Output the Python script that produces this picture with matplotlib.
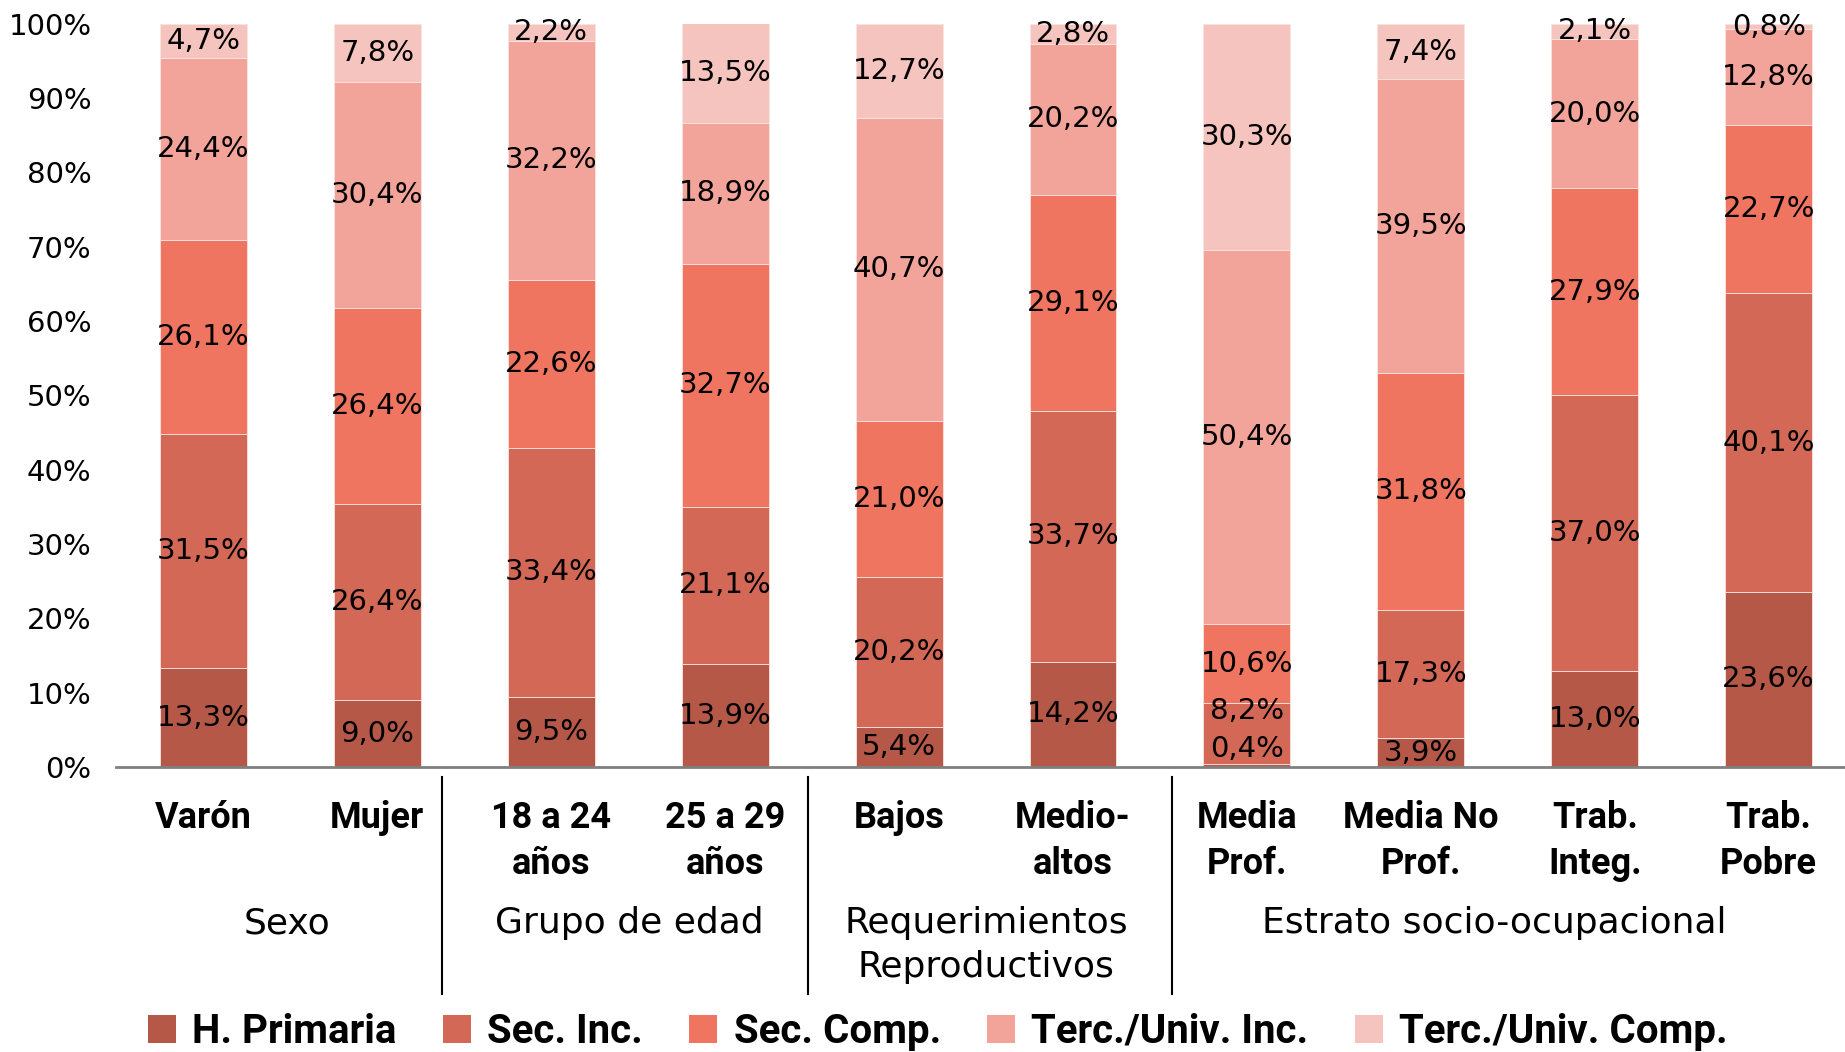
import matplotlib
matplotlib.use("Agg")
import matplotlib.pyplot as plt
from matplotlib.transforms import blended_transform_factory
from matplotlib.lines import Line2D
from matplotlib.patches import Patch

categories = ["Varón", "Mujer", "18 a 24\naños", "25 a 29\naños", "Bajos", "Medio-\naltos",
              "Media\nProf.", "Media No\nProf.", "Trab.\nInteg.", "Trab.\nPobre"]
series_names = ["H. Primaria", "Sec. Inc.", "Sec. Comp.", "Terc./Univ. Inc.", "Terc./Univ. Comp."]
h_primaria = [13.3, 9.0, 9.5, 13.9, 5.4, 14.2, 0.4, 3.9, 13.0, 23.6]
sec_inc = [31.5, 26.4, 33.4, 21.1, 20.2, 33.7, 8.2, 17.3, 37.0, 40.1]
sec_comp = [26.1, 26.4, 22.6, 32.7, 21.0, 29.1, 10.6, 31.8, 27.9, 22.7]
terc_inc = [24.4, 30.4, 32.2, 18.9, 40.7, 20.2, 50.4, 39.5, 20.0, 12.8]
terc_comp = [4.7, 7.8, 2.2, 13.5, 12.7, 2.8, 30.3, 7.4, 2.1, 0.8]
groups = ["Sexo", "Grupo de edad", "Requerimientos\nReproductivos", "Estrato socio-ocupacional"]
yticks = [0, 10, 20, 30, 40, 50, 60, 70, 80, 90, 100]

colors = ["#B55848", "#D46856", "#EF7560", "#F3A49A", "#F6C4BF"]
label_y_override = {(6, 0): 2.5, (6, 1): 7.6}
group_x = [0.48, 2.45, 4.50, 7.42]
sep_x = [1.373, 3.478, 5.568]

cat_font = "Roboto"
num_font = "DejaVu Sans"

W, H = 1568.0, 894.0
fig = plt.figure(figsize=(18.45, 10.52), dpi=100)
ax = fig.add_axes([99 / W, 1 - 652 / H, 10 * 147.8 / W, (652 - 20) / H])

data = [h_primaria, sec_inc, sec_comp, terc_inc, terc_comp]
x = list(range(len(categories)))
bottom = [0.0] * len(categories)
handles = []
for si, vals in enumerate(data):
    ax.bar(x, vals, width=0.5, bottom=bottom, color=colors[si],
           edgecolor="#fbe3df", linewidth=0.6, zorder=2)
    for i, v in enumerate(vals):
        yc = label_y_override.get((i, si), bottom[i] + v / 2)
        ax.text(i, yc, f"{v:.1f}%".replace(".", ","), ha="center", va="center",
                fontsize=21, family=num_font, color="black", zorder=3)
    bottom = [b + v for b, v in zip(bottom, vals)]
    handles.append(Patch(facecolor=colors[si], edgecolor="none"))

ax.set_xlim(-0.5, 9.5)
ax.set_ylim(0, 100)
ax.set_yticks(yticks)
ax.set_yticklabels([f"{t}%" for t in yticks], fontsize=21, family=num_font)
ax.tick_params(axis="y", length=0, pad=18)
ax.set_xticks([])
for s in ["top", "right", "left"]:
    ax.spines[s].set_visible(False)
ax.spines["bottom"].set_color("#808080")
ax.spines["bottom"].set_linewidth(2)

tr = blended_transform_factory(ax.transData, fig.transFigure)
for i, c in enumerate(categories):
    ax.text(i, 1 - 680 / H, c, transform=tr, ha="center", va="top", fontsize=26,
            family=cat_font, fontweight="bold", linespacing=1.36)

for g, gx in zip(groups, group_x):
    ax.text(gx, 1 - 770 / H, g, transform=tr, ha="center", va="top",
            fontsize=26, family=num_font, linespacing=1.35)

for sx in sep_x:
    fig.add_artist(Line2D([sx, sx], [1 - 660 / H, 1 - 845 / H], transform=tr,
                          color="black", linewidth=1.5, clip_on=False))

fig.legend(handles, series_names, loc="center", bbox_to_anchor=(797 / W, 1 - 877 / H),
           ncol=5, frameon=False, handlelength=0.7, handleheight=0.7,
           handletextpad=0.4, columnspacing=1.15,
           prop={"family": cat_font, "weight": "bold", "size": 29})

fig.savefig("out.png", dpi=100)
